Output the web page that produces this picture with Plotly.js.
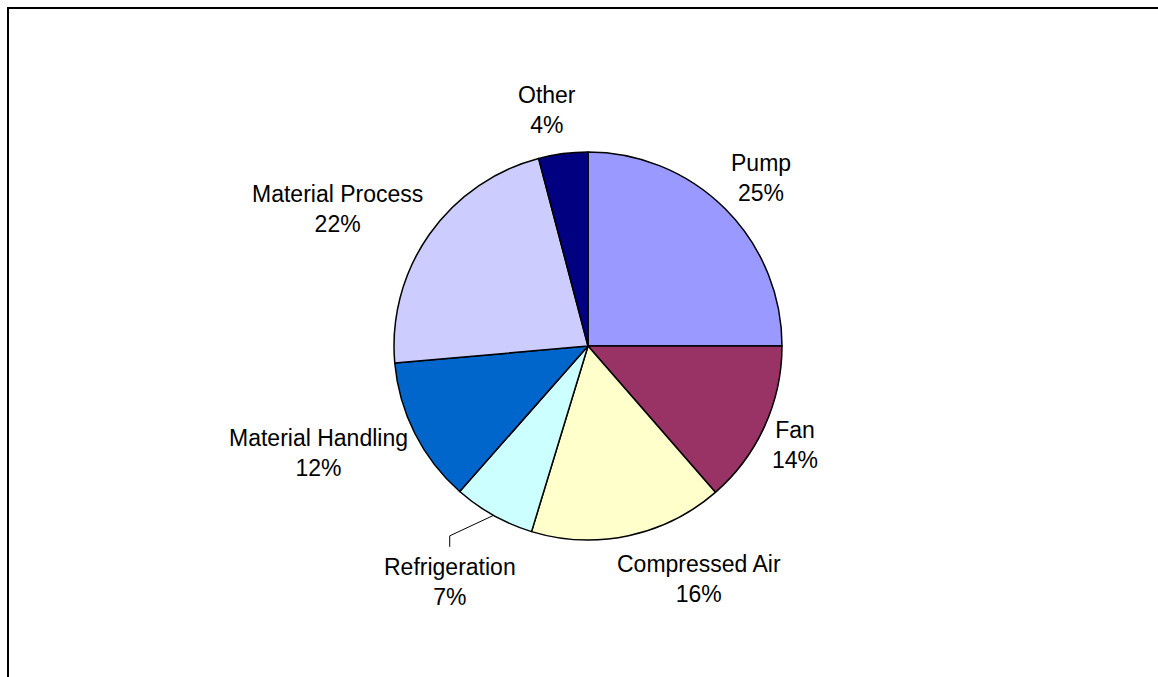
<!DOCTYPE html>
<html>
<head>
<meta charset="utf-8">
<script src="https://cdn.plot.ly/plotly-3.0.1.min.js"></script>
<style>
  html, body { margin: 0; padding: 0; background: #fff; overflow: hidden; }
  #wrap { position: relative; width: 1158px; height: 677px; }
  #chart { position: absolute; left: 0; top: 0; width: 1158px; height: 677px; }
  #frame { position: absolute; left: 7px; top: 7px; width: 1300px; height: 800px;
           border-top: 2px solid #000; border-left: 2px solid #000; pointer-events: none; }
</style>
</head>
<body>
<div id="wrap">
  <div id="chart"></div>
  <div id="frame"></div>
</div>
<script>
// ---- data ----
const categories = ["Pump", "Fan", "Compressed Air", "Refrigeration", "Material Handling", "Material Process", "Other"];
const shares = [25.0, 13.6, 16.1, 6.8, 12.1, 22.3, 4.1];
const sliceColors = ["#9999FF", "#993366", "#FFFFCC", "#CCFFFF", "#0066CC", "#CCCCFF", "#000080"];

// ---- layout constants (pixels) ----
const W = 1158, H = 677;
const cx = 588, cy = 346, R = 194;
const FONT = "Liberation Sans, Arial, sans-serif";
const FS = 23;
const labelGap = 8;           // gap between pie edge and label anchor
const halfLine = 36;          // vertical push of two-line label
const manualLabelShift = { "Refrigeration": [26, 28] };  // label dragged away, with leader line

// text width measurement
const cv = document.createElement("canvas").getContext("2d");
cv.font = FS + "px 'Liberation Sans', Arial, sans-serif";
function textW(s) { const w = cv.measureText(s).width; return w > 0 ? w : s.length * FS * 0.55; }

const total = shares.reduce((a, b) => a + b, 0);
const annotations = [];
const shapes = [];
let cum = 0;
categories.forEach((cat, i) => {
  const frac = (cum + shares[i] / 2) / total;
  cum += shares[i];
  const th = 2 * Math.PI * frac;
  const dx = Math.sin(th), dy = -Math.cos(th);   // dy: screen-down positive
  const pct = Math.round(shares[i] / total * 100) + "%";
  const hw = Math.max(textW(cat), textW(pct)) / 2;
  const k = Math.max(-1, Math.min(1, dx * 4));
  let px = cx + dx * (R + labelGap) + hw * k;
  let py = cy + dy * (R + labelGap) + halfLine * dy;
  const shift = manualLabelShift[cat];
  if (shift) {
    px += shift[0]; py += shift[1];
    const top = py - 30;
    const ex = cx + dx * R, ey = cy + dy * R;
    const toP = (x, y) => (x / W).toFixed(5) + "," + (1 - y / H).toFixed(5);
    shapes.push({
      type: "path", xref: "paper", yref: "paper",
      path: "M" + toP(px, top - 5) + " L" + toP(px, top - 16) + " L" + toP(ex, ey),
      line: { color: "#000", width: 1 }
    });
  }
  annotations.push({
    xref: "paper", yref: "paper",
    x: px / W, y: 1 - py / H,
    xanchor: "center", yanchor: "middle",
    text: cat + "<br>" + pct,
    showarrow: false, align: "center",
    font: { family: FONT, size: FS, color: "#000" }
  });
});

const trace = {
  type: "pie",
  labels: categories,
  values: shares,
  sort: false,
  direction: "clockwise",
  rotation: 0,
  marker: { colors: sliceColors, line: { color: "#000", width: 1.5 } },
  textinfo: "none",
  automargin: false,
  showlegend: false,
  hoverinfo: "label+percent",
  domain: {
    x: [(cx - R) / W, (cx + R) / W],
    y: [(H - cy - R) / H, (H - cy + R) / H]
  }
};
const layout = {
  width: W, height: H,
  margin: { l: 0, r: 0, t: 0, b: 0 },
  paper_bgcolor: "#fff",
  font: { family: FONT, size: FS, color: "#000" },
  showlegend: false,
  annotations: annotations,
  shapes: shapes
};
Plotly.newPlot("chart", [trace], layout, { displayModeBar: false, staticPlot: true });
</script>
</body>
</html>
